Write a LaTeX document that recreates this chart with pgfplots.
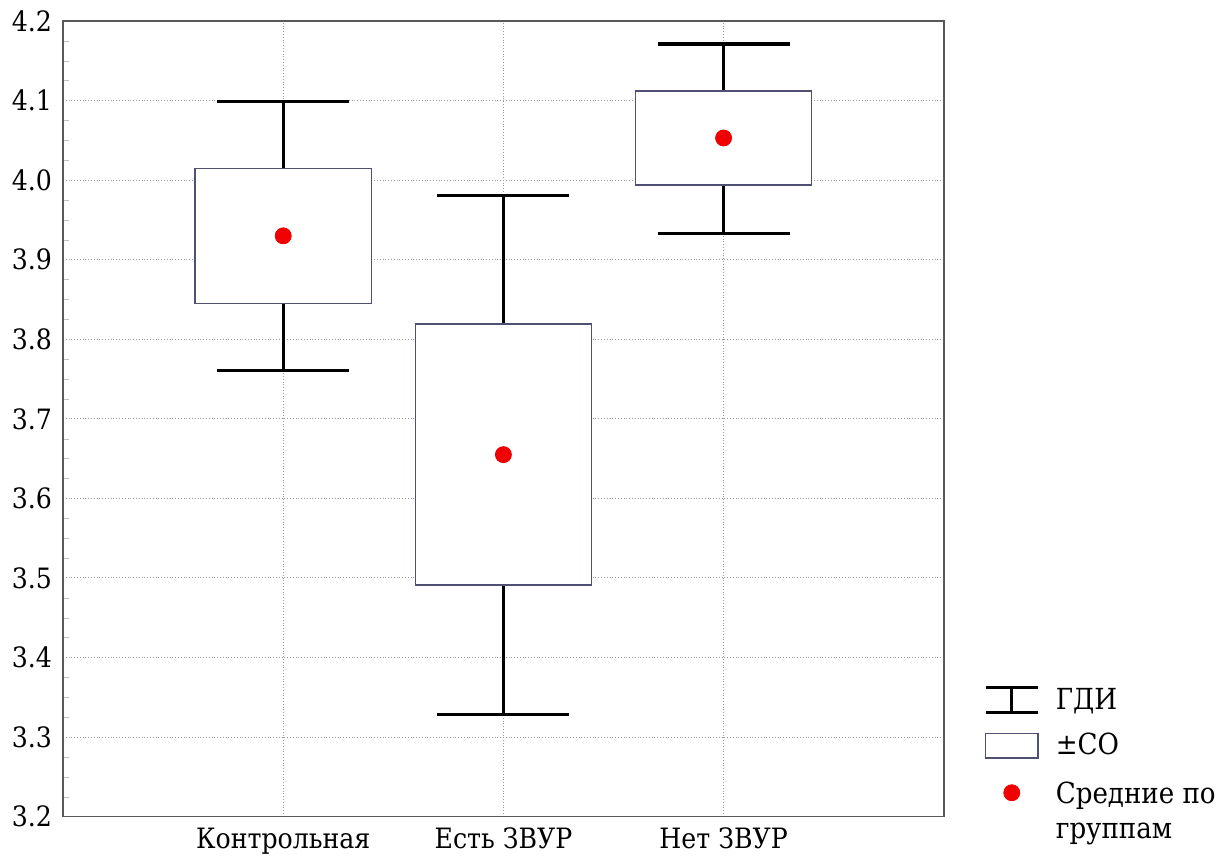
\documentclass[border=0pt]{standalone}
\usepackage{fontspec}
\IfFontExistsTF{DejaVu Serif Condensed}
  {\setmainfont{DejaVu Serif Condensed}%
   \newcommand\chartfont{\fontsize{14}{17}\selectfont}%
   \newcommand\legendfont{\fontsize{14.5}{17.5}\selectfont}}
  {\setmainfont{DejaVu Serif}%
   \newcommand\chartfont{\fontsize{13}{16}\selectfont}%
   \newcommand\legendfont{\fontsize{13.5}{16.5}\selectfont}}
\usepackage{pgfplots}
\pgfplotsset{compat=1.18}
\usepgfplotslibrary{statistics}
\definecolor{boxedge}{RGB}{80,80,115}
\definecolor{meanred}{RGB}{240,0,0}

\begin{document}
\begin{tikzpicture}
\begin{axis}[
  at={(0pt,0pt)}, anchor=south west,
  scale only axis,
  width=440pt, height=397.5pt,
  xmin=0, xmax=4, ymin=3.2, ymax=4.2,
  xtick={1,2,3},
  xticklabels={Контрольная, Есть ЗВУР, Нет ЗВУР},
  ytick={3.2,3.3,3.4,3.5,3.6,3.7,3.8,3.9,4.0,4.1,4.2},
  yticklabel style={/pgf/number format/fixed, /pgf/number format/fixed zerofill,
    /pgf/number format/precision=1, xshift=-2pt},
  /pgf/number format/assume math mode=true,
  minor y tick num=3,
  ytick pos=left, xtick pos=bottom,
  major tick length=0pt, minor tick length=3pt,
  minor tick style={gray!50},
  grid=major,
  major grid style={gray!80, densely dotted, line width=0.5pt},
  axis line style={gray!70!black, line width=0.8pt},
  font=\chartfont,
  xticklabel style={yshift=-2pt},
  legend style={at={(1.0386,0.172)}, anchor=north west, draw=none, fill=none,
    row sep=6.5pt, font=\legendfont},
  legend cell align=left,
  boxplot/draw direction=y,
  boxplot/every box/.style={draw=boxedge, fill=white, line width=0.7pt},
  boxplot/every whisker/.style={black, line width=1.6pt},
  boxplot/every median/.style={draw=none},
]
% Group spreads: whiskers (ГДИ), box (±СО)
\addplot[forget plot, boxplot prepared={draw position=1,
  lower whisker=3.761, lower quartile=3.845, median=3.930,
  upper quartile=4.015, upper whisker=4.099,
  box extend=0.8, whisker extend=0.6}] coordinates {};
\addplot[forget plot, boxplot prepared={draw position=2,
  lower whisker=3.328, lower quartile=3.491, median=3.655,
  upper quartile=3.819, upper whisker=3.981,
  box extend=0.8, whisker extend=0.6}] coordinates {};
\addplot[forget plot, boxplot prepared={draw position=3,
  lower whisker=3.933, lower quartile=3.994, median=4.053,
  upper quartile=4.112, upper whisker=4.171,
  box extend=0.8, whisker extend=0.6}] coordinates {};
% Group means
\addplot[forget plot, only marks, mark=*, mark size=4pt, color=meanred]
  coordinates {(1,3.930) (2,3.655) (3,4.053)};

\addlegendimage{legend image code/.code={
  \path[draw=none] (0pt,0pt) -- (33pt,0pt);
  \draw[black, line width=1.6pt] (0pt,-6.2pt) -- (26pt,-6.2pt)
    (0pt,6.2pt) -- (26pt,6.2pt) (13pt,-6.2pt) -- (13pt,6.2pt);}}
\addlegendentry{ГДИ}
\addlegendimage{legend image code/.code={
  \path[draw=none] (0pt,0pt) -- (33pt,0pt);
  \draw[boxedge, fill=white, line width=0.7pt] (0pt,-6.2pt) rectangle (26pt,6.2pt);}}
\addlegendentry{±СО}
\addlegendimage{legend image code/.code={
  \path[draw=none] (0pt,0pt) -- (33pt,0pt);
  \fill[meanred] (13pt,0pt) circle (4pt);}}
\addlegendentry{\begin{tabular}[t]{@{}l@{}}Средние по\\группам\end{tabular}}
\end{axis}
% page extent around the axis box
\pgfresetboundingbox
\path (-31.5pt,-22.5pt) rectangle (581.5pt,408pt);
\end{tikzpicture}
\end{document}
